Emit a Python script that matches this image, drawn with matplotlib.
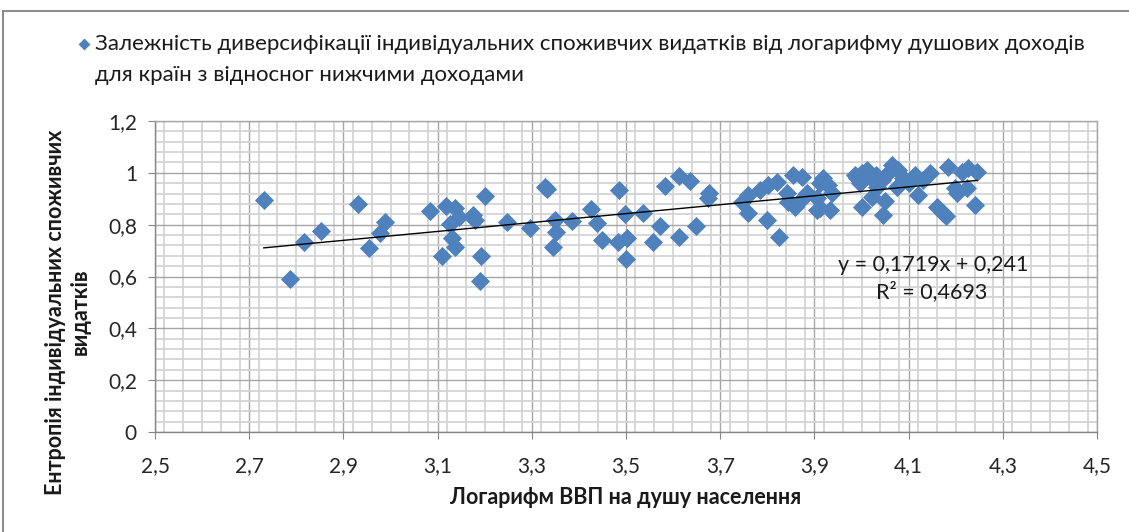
import matplotlib
matplotlib.use("Agg")
import matplotlib.pyplot as plt
from matplotlib.ticker import MultipleLocator, FuncFormatter
from matplotlib.patches import Rectangle
import numpy as np

plt.rcParams['font.family'] = ['Lato', 'DejaVu Sans']

# ---- data ----
log_gdp = [
    2.731, 2.787, 2.816, 2.852, 2.931, 2.954, 2.988, 2.978, 3.084, 3.118,
    3.137, 3.146, 3.126, 3.175, 3.180, 3.201, 3.130, 3.137, 3.109, 3.192,
    3.190, 3.247, 3.296, 3.328, 3.332, 3.349, 3.351, 3.345, 3.385, 3.425,
    3.438, 3.449, 3.485, 3.483, 3.498, 3.502, 3.500, 3.536, 3.557, 3.572,
    3.583, 3.612, 3.612, 3.636, 3.649, 3.676, 3.674,
    3.746, 3.759, 3.759, 3.784, 3.799, 3.801, 3.825, 3.821, 3.842, 3.855,
    3.844, 3.859, 3.874, 3.876, 3.905, 3.905, 3.912, 3.884, 3.912, 3.918,
    3.929, 3.937, 3.933,
    3.986, 3.997, 4.001, 4.012, 4.022, 4.033, 4.043, 4.046, 4.056, 4.065,
    4.075, 4.077, 4.088, 4.114, 4.120, 4.131, 4.145, 4.160, 4.173, 4.184,
    4.199, 4.203, 4.213, 4.224, 4.226, 4.241, 4.245, 4.000, 4.030, 4.100,
    4.180, 4.050, 4.020, 3.990,
]
entropy = [
    0.896, 0.591, 0.734, 0.776, 0.880, 0.710, 0.811, 0.768, 0.853, 0.873,
    0.865, 0.830, 0.803, 0.838, 0.818, 0.911, 0.749, 0.714, 0.680, 0.680,
    0.583, 0.811, 0.786, 0.946, 0.938, 0.818, 0.770, 0.714, 0.813, 0.859,
    0.807, 0.741, 0.932, 0.734, 0.840, 0.749, 0.668, 0.845, 0.734, 0.793,
    0.950, 0.986, 0.754, 0.967, 0.793, 0.923, 0.904,
    0.888, 0.915, 0.846, 0.934, 0.818, 0.954, 0.754, 0.965, 0.923, 0.992,
    0.888, 0.869, 0.985, 0.904, 0.904, 0.857, 0.961, 0.923, 0.865, 0.981,
    0.954, 0.923, 0.857,
    0.992, 0.961, 0.869, 1.012, 0.907, 0.946, 0.973, 0.838, 1.000, 1.031,
    0.946, 1.012, 0.981, 0.992, 0.915, 0.973, 1.000, 0.869, 0.846, 1.023,
    0.942, 0.923, 1.004, 0.942, 1.019, 0.876, 1.004, 1.000, 0.990, 0.960,
    0.834, 0.890, 0.980, 0.980,
]
trend_slope = 0.1719
trend_intercept = 0.241
r_squared = 0.4693

x_ticks = [2.5, 2.7, 2.9, 3.1, 3.3, 3.5, 3.7, 3.9, 4.1, 4.3, 4.5]
y_ticks = [0, 0.2, 0.4, 0.6, 0.8, 1.0, 1.2]

series_label_1 = "Залежність диверсифікації індивідуальних споживчих видатків від логарифму душових доходів"
series_label_2 = "для країн з відносног нижчими доходами"
x_label = "Логарифм ВВП на душу населення"
y_label = "Ентропія індивідуальних споживчих\nвидатків"

# ---- figure ----
W, H = 1129, 532
fig = plt.figure(figsize=(W / 100, H / 100), dpi=100)
ax = fig.add_axes([155 / W, 1 - 432 / H, (1097 - 155) / W, (432 - 121) / H])

blue = "#4F81BD"
txt = "#1a1a1a"
ax.scatter(log_gdp, entropy, marker="D", s=95, color=blue, linewidths=0,
           zorder=3, label=series_label_1)

xs = np.array([min(log_gdp), max(log_gdp)])
ax.plot(xs, trend_slope * xs + trend_intercept, color="black", lw=1.0, zorder=4)

ax.set_xlim(x_ticks[0], x_ticks[-1])
ax.set_ylim(y_ticks[0], y_ticks[-1])
ax.set_xticks(x_ticks)
ax.set_yticks(y_ticks)
ax.xaxis.set_minor_locator(MultipleLocator(0.04))
ax.yaxis.set_minor_locator(MultipleLocator(0.04))

fmt = FuncFormatter(lambda v, p: f"{v:g}".replace(".", ","))
ax.xaxis.set_major_formatter(fmt)
ax.yaxis.set_major_formatter(fmt)

ax.grid(which="minor", color="#D4D4D4", lw=1.3, zorder=0)
ax.grid(which="major", color="#A6A6A6", lw=1.0, zorder=1)
ax.set_axisbelow(True)

for side in ["left", "bottom"]:
    ax.spines[side].set_color("#868686")
    ax.spines[side].set_linewidth(1.0)
for side in ["top", "right"]:
    ax.spines[side].set_color("#A6A6A6")
    ax.spines[side].set_linewidth(1.0)

ax.tick_params(axis="both", which="major", direction="out", length=5,
               color="#868686", labelsize=15, labelcolor="#262626")
ax.tick_params(axis="x", which="major", pad=12)
ax.tick_params(axis="y", which="major", pad=8)
ax.tick_params(axis="both", which="minor", length=0)

# axis titles
fig.text(626 / W, 1 - 497 / H, x_label, fontsize=15.5, fontweight="bold",
         ha="center", va="center", color=txt)
fig.text(68 / W, 1 - 312 / H, y_label, fontsize=15.5, fontweight="bold",
         rotation=90, ha="center", va="center", multialignment="center",
         linespacing=1.25, color=txt)

# trendline equation and R²
def px2data(px, py):
    return ax.transData.inverted().transform((px, H - py))

ex, ey = px2data(933, 265)
rx, ry = px2data(932, 292)
ax.text(ex, ey, f"y = {trend_slope:.4f}x + {trend_intercept:.3f}".replace(".", ","),
        fontsize=15.5, ha="center", va="center", color=txt)
ax.text(rx, ry, f"R² = {r_squared:.4f}".replace(".", ","),
        fontsize=15.5, ha="center", va="center", color=txt)

# legend (series name split over two lines as in the reference)
leg = fig.legend(loc="upper left", bbox_to_anchor=(74 / W, 1 - 34 / H),
                 frameon=False, fontsize=16, handletextpad=0.05,
                 handlelength=0.9, markerscale=0.62, borderpad=0, borderaxespad=0)
for t in leg.get_texts():
    t.set_color(txt)
fig.text(95 / W, 1 - 75 / H, series_label_2, fontsize=16, ha="left",
         va="center", color=txt)

fig.patches.append(Rectangle((3 / W, -0.1), 1.2, 1 - 11 / H + 0.1,
                             transform=fig.transFigure, fill=False,
                             edgecolor="#8C8C8C", lw=1.5))

fig.savefig("out.png", dpi=100)
